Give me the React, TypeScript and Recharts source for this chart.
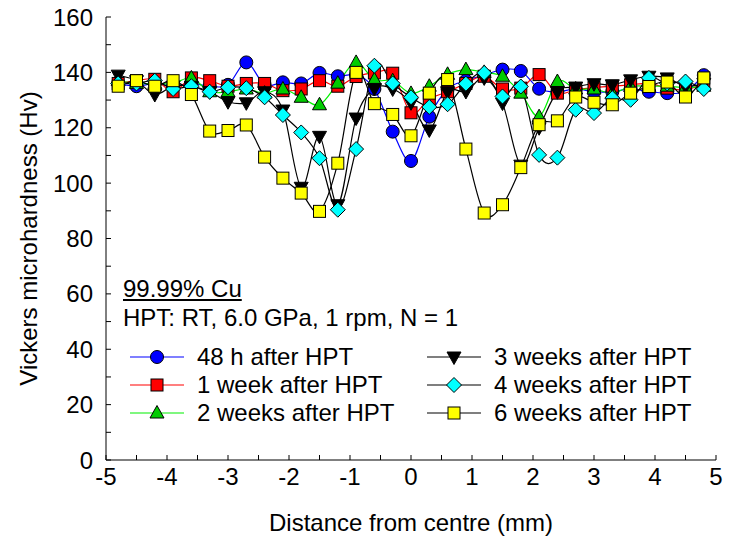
import { LineChart, Line, XAxis, YAxis, Legend } from "recharts";

// measurement positions along the disc diameter (mm)
const positions = [
  -4.8, -4.5, -4.2, -3.9, -3.6, -3.3, -3.0, -2.7, -2.4, -2.1, -1.8, -1.5, -1.2, -0.9, -0.6, -0.3,
  0, 0.3, 0.6, 0.9, 1.2, 1.5, 1.8, 2.1, 2.4, 2.7, 3.0, 3.3, 3.6, 3.9, 4.2, 4.5, 4.8,
];

const h48 = [
  136, 135, 136, 135, 136, 135, 135.5, 143.6, 135.5, 136.4, 136, 139.8, 138.6, 139, 134, 118.6,
  108, 124, 134, 137, 139, 141, 140.5, 134.1, 133, 134, 133, 133, 134, 133, 132.5, 133, 139,
];
const week1 = [
  136, 137, 137.5, 133, 138, 137, 135, 136, 136, 133.4, 134, 137, 135, 138.5, 139.8, 139.7,
  125.4, 130.4, 133, 136, 138.6, 134, 134.3, 139.2, 132.5, 133.7, 134.5, 135, 135.5, 136, 134.3, 133.7, 136,
];
const week2 = [
  137, 136, 136, 136, 138, 133, 133, 134, 132.5, 134, 131, 128.3, 136.1, 143.6, 137.3, 137,
  132.4, 135, 139.3, 141, 140, 138.6, 132.5, 124, 136.7, 134, 134, 132.5, 134.9, 135, 135, 134.5, 135,
];
const week3 = [
  139, 137, 132, 135, 135, 133, 129.4, 129, 133, 126.4, 98.5, 116.9, 92.2, 123.5, 134.2, 134,
  129, 119.2, 133, 133.1, 138, 128.9, 106.5, 120, 133, 134.7, 135.9, 135.5, 137.3, 138.6, 138, 135, 136,
];
const week4 = [
  136, 136, 137, 134, 135, 133, 134.6, 134.3, 131, 124.6, 118.3, 109, 90.4, 112.3, 142.4, 136,
  131, 127.5, 128.5, 135.9, 139.8, 131.3, 134.9, 110.2, 109.2, 126.5, 125.3, 130.7, 130.1, 138, 136, 136.7, 134,
];
const week6 = [
  135, 137, 135, 137, 132, 118.8, 119, 121, 109.4, 101.8, 96.4, 89.8, 107.2, 140, 128.7, 124.8,
  117.1, 132.5, 137.4, 112.3, 89.2, 92.2, 105.6, 121.1, 122.5, 131.1, 129.2, 128.3, 132.5, 134.9, 136.5, 131.1, 138,
];

const xTicks = [-5, -4.5, -4, -3.5, -3, -2.5, -2, -1.5, -1, -0.5, 0, 0.5, 1, 1.5, 2, 2.5, 3, 3.5, 4, 4.5, 5];
const yTicks = [0, 10, 20, 30, 40, 50, 60, 70, 80, 90, 100, 110, 120, 130, 140, 150, 160];

const series = [
  { key: "h48", name: "48 h after HPT", values: h48, line: "#0000ff", fill: "#0000ff", shape: "circle" },
  { key: "week1", name: "1 week after HPT", values: week1, line: "#ff0000", fill: "#ff0000", shape: "square" },
  { key: "week2", name: "2 weeks after HPT", values: week2, line: "#00f000", fill: "#00cc00", shape: "triangleUp" },
  { key: "week3", name: "3 weeks after HPT", values: week3, line: "#000000", fill: "#000000", shape: "triangleDown" },
  { key: "week4", name: "4 weeks after HPT", values: week4, line: "#000000", fill: "#00ffff", shape: "diamond" },
  { key: "week6", name: "6 weeks after HPT", values: week6, line: "#000000", fill: "#ffff00", shape: "square" },
];

const data = positions.map((x, i) => {
  const row: Record<string, number> = { x };
  series.forEach((s) => {
    row[s.key] = s.values[i];
  });
  return row;
});

const FONT = '"Liberation Sans", Arial, sans-serif';

// Catmull-Rom style spline, like the smoothed lines of the original plot
function smoothCurve(context: any) {
  let pts: number[][] = [];
  return {
    areaStart() {},
    areaEnd() {},
    lineStart() {
      pts = [];
    },
    point(x: number, y: number) {
      pts.push([+x, +y]);
    },
    lineEnd() {
      const n = pts.length;
      if (!n) return;
      context.moveTo(pts[0][0], pts[0][1]);
      for (let i = 0; i < n - 1; i++) {
        const p0 = pts[Math.max(i - 1, 0)];
        const p1 = pts[i];
        const p2 = pts[i + 1];
        const p3 = pts[Math.min(i + 2, n - 1)];
        context.bezierCurveTo(
          p1[0] + (p2[0] - p0[0]) / 6,
          p1[1] + (p2[1] - p0[1]) / 6,
          p2[0] - (p3[0] - p1[0]) / 6,
          p2[1] - (p3[1] - p1[1]) / 6,
          p2[0],
          p2[1]
        );
      }
    },
  };
}

const Marker = ({ shape, cx, cy, fill }: { shape: string; cx: number; cy: number; fill: string }) => {
  const st = { fill, stroke: "#000", strokeWidth: 1 };
  if (cx == null || cy == null) return null;
  switch (shape) {
    case "circle":
      return <circle cx={cx} cy={cy} r={6.5} {...st} />;
    case "square":
      return <rect x={cx - 6} y={cy - 6} width={12} height={12} {...st} />;
    case "triangleUp":
      return <path d={`M${cx},${cy - 7.5}L${cx + 7},${cy + 5}L${cx - 7},${cy + 5}Z`} {...st} />;
    case "triangleDown":
      return <path d={`M${cx},${cy + 7.5}L${cx + 7},${cy - 5}L${cx - 7},${cy - 5}Z`} {...st} />;
    default:
      return <path d={`M${cx},${cy - 7.5}L${cx + 7.5},${cy}L${cx},${cy + 7.5}L${cx - 7.5},${cy}Z`} {...st} />;
  }
};

// two columns of three, in the series order (not sorted by name)
const renderLegend = (props: any) => {
  const payload = props.payload || [];
  return (
    <div style={{ position: "relative", width: 600, height: 84, fontFamily: FONT }}>
      {series.map((s, i) => {
        const entry = payload.find((p: any) => p.dataKey === s.key);
        const col = Math.floor(i / 3);
        const row = i % 3;
        return (
          <div
            key={s.key}
            style={{
              position: "absolute",
              left: col * 297,
              top: row * 28,
              height: 28,
              display: "flex",
              alignItems: "center",
              whiteSpace: "nowrap",
            }}
          >
            <svg width={54} height={20}>
              <line x1={0} y1={10} x2={54} y2={10} stroke={entry ? entry.color : s.line} strokeWidth={1.2} />
              <Marker shape={s.shape} cx={27} cy={10} fill={s.fill} />
            </svg>
            <span style={{ marginLeft: 13, fontSize: 24, color: "#000" }}>{entry ? entry.value : s.name}</span>
          </div>
        );
      })}
    </div>
  );
};

export default function App() {
  const tickStyle = { fill: "#000", fontSize: 24, fontFamily: FONT };
  return (
    <div style={{ position: "absolute", left: 0, top: 0, width: 741, height: 547, background: "#fff", fontFamily: FONT }}>
      <LineChart width={741} height={547} data={data} margin={{ top: 17, right: 25, bottom: 47, left: 10 }}>
        <XAxis
          dataKey="x"
          type="number"
          domain={[-5, 5]}
          ticks={xTicks}
          interval={0}
          tickFormatter={(v: number) => (Number.isInteger(v) ? String(v) : "")}
          tickSize={-5}
          tickMargin={13}
          height={40}
          stroke="#000"
          tick={tickStyle}
          label={{ value: "Distance from centre (mm)", position: "bottom", offset: 14, style: { fill: "#000", fontSize: 24, fontFamily: FONT } }}
        />
        <XAxis
          xAxisId="top"
          orientation="top"
          type="number"
          domain={[-5, 5]}
          ticks={xTicks}
          interval={0}
          tickFormatter={() => ""}
          tickSize={-5}
          height={0}
          stroke="#000"
        />
        <YAxis
          type="number"
          domain={[0, 160]}
          ticks={yTicks}
          interval={0}
          tickFormatter={(v: number) => (v % 20 === 0 ? String(v) : "")}
          tickSize={-5}
          tickMargin={18}
          width={96}
          stroke="#000"
          tick={tickStyle}
          label={{
            value: "Vickers microhardness (Hv)",
            angle: -90,
            position: "insideLeft",
            offset: 18,
            style: { textAnchor: "middle", fill: "#000", fontSize: 24, fontFamily: FONT },
          }}
        />
        <YAxis
          yAxisId="right"
          orientation="right"
          type="number"
          domain={[0, 160]}
          ticks={yTicks}
          interval={0}
          tickFormatter={() => ""}
          tickSize={-5}
          width={0}
          stroke="#000"
        />
        <Legend
          content={renderLegend}
          layout="horizontal"
          verticalAlign="middle"
          align="center"
          wrapperStyle={{ left: 130, top: 343, width: 600, height: 84 }}
        />
        {series.map((s) => (
          <Line
            key={s.key}
            dataKey={s.key}
            name={s.name}
            type={smoothCurve as any}
            stroke={s.line}
            strokeWidth={1.2}
            isAnimationActive={false}
            dot={(p: any) => <Marker key={`${s.key}-${p.index}`} shape={s.shape} cx={p.cx} cy={p.cy} fill={s.fill} />}
            activeDot={false}
          />
        ))}
      </LineChart>
      <div style={{ position: "absolute", left: 123, top: 277, fontSize: 24, lineHeight: "24px", color: "#000", whiteSpace: "nowrap" }}>
        <div style={{ textDecoration: "underline" }}>99.99% Cu</div>
        <div style={{ marginTop: 5 }}>HPT: RT, 6.0 GPa, 1 rpm, N = 1</div>
      </div>
    </div>
  );
}
